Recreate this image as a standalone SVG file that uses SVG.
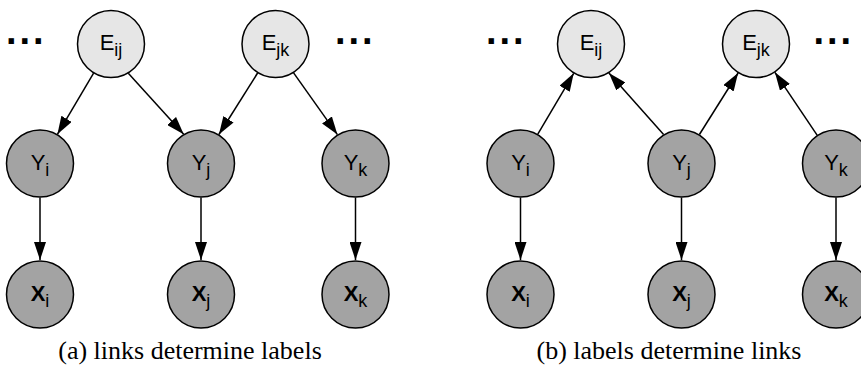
<svg xmlns="http://www.w3.org/2000/svg" width="861" height="369" viewBox="0 0 861 369">
<style>
  .e { fill: #e6e6e6; stroke: #000; stroke-width: 1.5; }
  .n { fill: #a3a3a3; stroke: #000; stroke-width: 1.5; }
  .lbl { font-family: "Liberation Sans", Arial, sans-serif; font-size: 22px; fill: #000; text-anchor: middle; }
  .bold { font-weight: bold; }
  .sub { font-size: 18px; font-weight: normal; }
  .dots { font-family: "Liberation Sans", Arial, sans-serif; font-size: 38px; font-weight: bold; letter-spacing: 3px; fill: #000; }
  .cap { font-family: "Liberation Serif", "Times New Roman", serif; font-size: 26px; fill: #000; text-anchor: middle; }
  .edge { stroke: #000; stroke-width: 1.5; fill: none; marker-end: url(#ah); }
</style>
<defs>
  <marker id="ah" viewBox="0 0 18 12" refX="18" refY="6" markerWidth="18" markerHeight="12" markerUnits="userSpaceOnUse" orient="auto">
    <path d="M0,0 L18,6 L0,12 Z" fill="#000"/>
  </marker>
</defs>

<g id="connectors">
  <!-- panel a -->
  <line class="edge" x1="93.6" y1="73.2" x2="57.4" y2="134.3"/>
  <line class="edge" x1="128.3" y1="73.2" x2="183.7" y2="134.3"/>
  <line class="edge" x1="257.6" y1="73.0" x2="218.9" y2="134.5"/>
  <line class="edge" x1="293.6" y1="72.9" x2="337.4" y2="134.6"/>
  <line class="edge" x1="40" y1="197.5" x2="40" y2="260"/>
  <line class="edge" x1="201" y1="197.5" x2="201" y2="260"/>
  <line class="edge" x1="355.5" y1="197.5" x2="355.5" y2="260"/>
  <!-- panel b -->
  <line class="edge" x1="537.8" y1="134.2" x2="573.7" y2="73.3"/>
  <line class="edge" x1="663.6" y1="134.5" x2="608.9" y2="73.0"/>
  <line class="edge" x1="699.4" y1="134.5" x2="738.1" y2="73.0"/>
  <line class="edge" x1="817.1" y1="135.2" x2="774.9" y2="72.3"/>
  <line class="edge" x1="520.5" y1="197.5" x2="520.5" y2="260"/>
  <line class="edge" x1="681.5" y1="197.5" x2="681.5" y2="260"/>
  <line class="edge" x1="836" y1="197.5" x2="836" y2="260"/>
</g>

<!-- Panel (a) -->
<text class="dots" x="6" y="44.3">...</text>
<text class="dots" x="335" y="44.3">...</text>

<g id="a_Eij"><circle class="e" cx="111" cy="44" r="33.5"/>
  <text class="lbl" x="111" y="50">E<tspan class="sub" dy="6">ij</tspan></text></g>
<g id="a_Ejk"><circle class="e" cx="275.5" cy="44" r="33.5"/>
  <text class="lbl" x="275.5" y="50">E<tspan class="sub" dy="6">jk</tspan></text></g>
<g id="a_Yi"><circle class="n" cx="40" cy="163.5" r="33.5"/>
  <text class="lbl" x="40" y="169.5">Y<tspan class="sub" dy="6">i</tspan></text></g>
<g id="a_Yj"><circle class="n" cx="201" cy="163.5" r="33.5"/>
  <text class="lbl" x="201" y="169.5">Y<tspan class="sub" dy="6">j</tspan></text></g>
<g id="a_Yk"><circle class="n" cx="355.5" cy="163.5" r="33.5"/>
  <text class="lbl" x="355.5" y="169.5">Y<tspan class="sub" dy="6">k</tspan></text></g>
<g id="a_Xi"><circle class="n" cx="40" cy="294.5" r="33.5"/>
  <text class="lbl bold" x="40" y="300.5">X<tspan class="sub" dy="6">i</tspan></text></g>
<g id="a_Xj"><circle class="n" cx="201" cy="294.5" r="33.5"/>
  <text class="lbl bold" x="201" y="300.5">X<tspan class="sub" dy="6">j</tspan></text></g>
<g id="a_Xk"><circle class="n" cx="355.5" cy="294.5" r="33.5"/>
  <text class="lbl bold" x="355.5" y="300.5">X<tspan class="sub" dy="6">k</tspan></text></g>
<text class="cap" x="190" y="359">(a) links determine labels</text>

<!-- Panel (b) -->
<text class="dots" x="486" y="44.3">...</text>
<text class="dots" x="813.5" y="44.3">...</text>

<g id="b_Eij"><circle class="e" cx="591" cy="44" r="33.5"/>
  <text class="lbl" x="591" y="50">E<tspan class="sub" dy="6">ij</tspan></text></g>
<g id="b_Ejk"><circle class="e" cx="756" cy="44" r="33.5"/>
  <text class="lbl" x="756" y="50">E<tspan class="sub" dy="6">jk</tspan></text></g>
<g id="b_Yi"><circle class="n" cx="520.5" cy="163.5" r="33.5"/>
  <text class="lbl" x="520.5" y="169.5">Y<tspan class="sub" dy="6">i</tspan></text></g>
<g id="b_Yj"><circle class="n" cx="681.5" cy="163.5" r="33.5"/>
  <text class="lbl" x="681.5" y="169.5">Y<tspan class="sub" dy="6">j</tspan></text></g>
<g id="b_Yk"><circle class="n" cx="836" cy="163.5" r="33.5"/>
  <text class="lbl" x="836" y="169.5">Y<tspan class="sub" dy="6">k</tspan></text></g>
<g id="b_Xi"><circle class="n" cx="520.5" cy="294.5" r="33.5"/>
  <text class="lbl bold" x="520.5" y="300.5">X<tspan class="sub" dy="6">i</tspan></text></g>
<g id="b_Xj"><circle class="n" cx="681.5" cy="294.5" r="33.5"/>
  <text class="lbl bold" x="681.5" y="300.5">X<tspan class="sub" dy="6">j</tspan></text></g>
<g id="b_Xk"><circle class="n" cx="836" cy="294.5" r="33.5"/>
  <text class="lbl bold" x="836" y="300.5">X<tspan class="sub" dy="6">k</tspan></text></g>
<text class="cap" x="669" y="359">(b) labels determine links</text>
</svg>
